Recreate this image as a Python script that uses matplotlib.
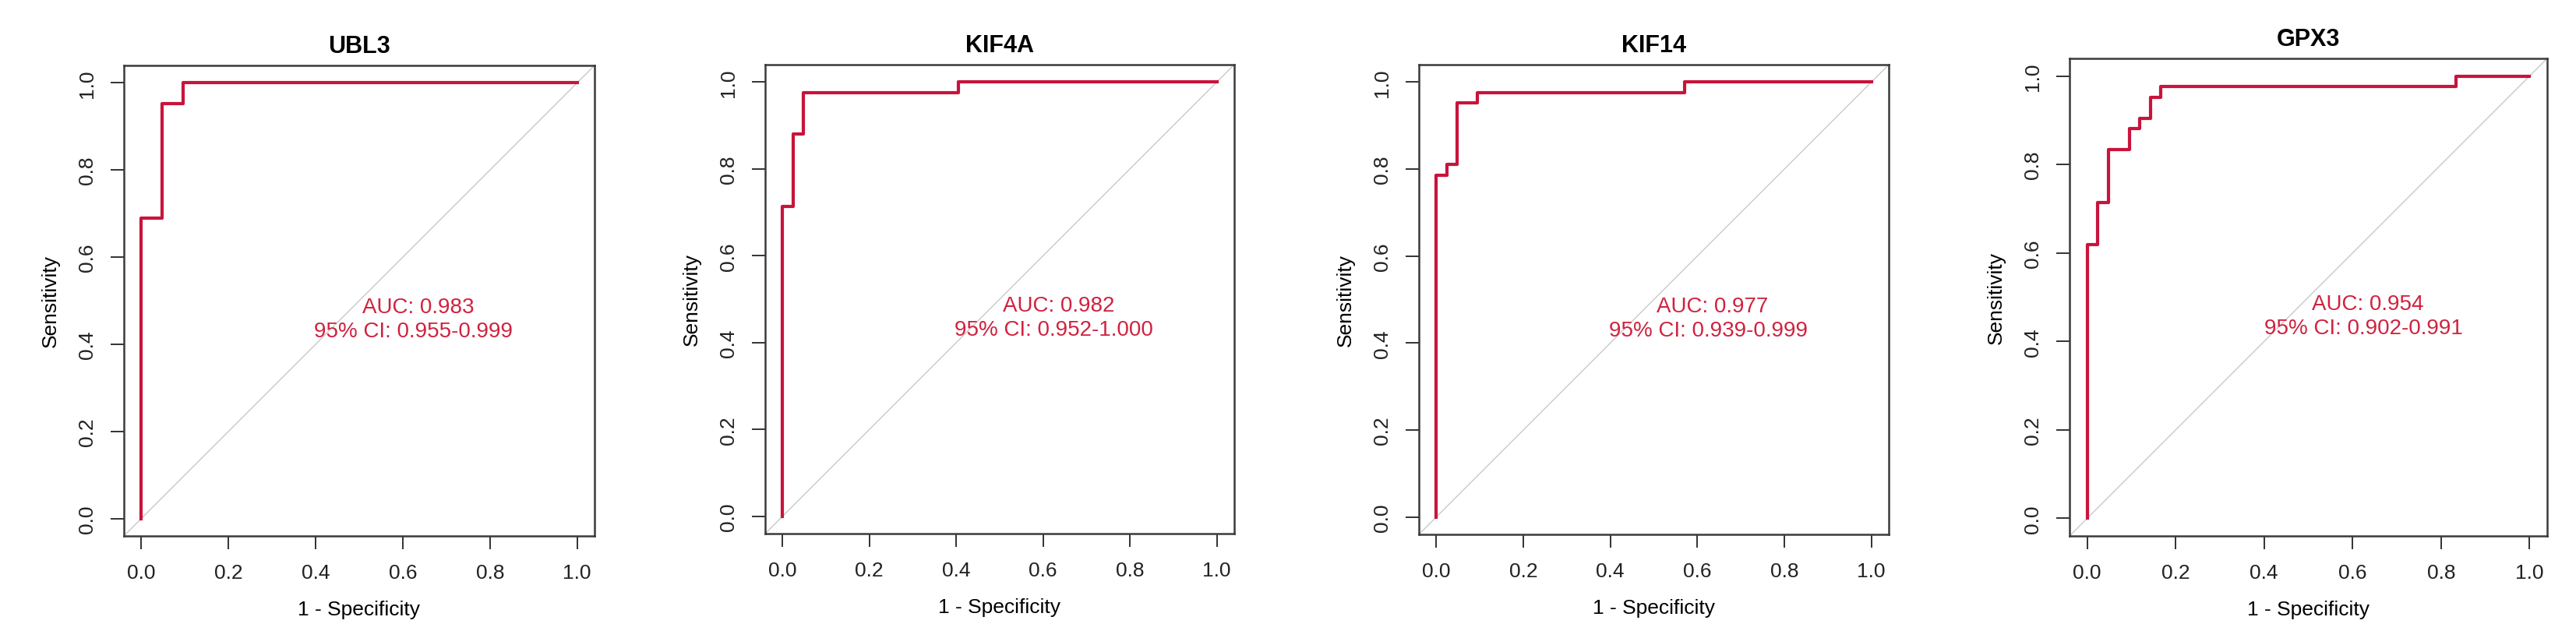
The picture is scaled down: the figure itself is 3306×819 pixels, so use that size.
import numpy as np
import matplotlib
matplotlib.use('Agg')
import matplotlib.pyplot as plt

plt.rcParams['font.family'] = ['Liberation Sans', 'DejaVu Sans']

# ROC-kurven (tocke ocitane sa slike)
genes = ['UBL3', 'KIF4A', 'KIF14', 'GPX3']

fpr_ubl3 = [0.0, 0.0, 0.048, 0.048, 0.095, 0.095, 1.0]
tpr_ubl3 = [0.0, 0.690, 0.690, 0.952, 0.952, 1.0, 1.0]

fpr_kif4a = [0.0, 0.0, 0.024, 0.024, 0.048, 0.048, 0.405, 0.405, 1.0]
tpr_kif4a = [0.0, 0.714, 0.714, 0.881, 0.881, 0.976, 0.976, 1.0, 1.0]

fpr_kif14 = [0.0, 0.0, 0.024, 0.024, 0.048, 0.048, 0.095, 0.095, 0.571, 0.571, 1.0]
tpr_kif14 = [0.0, 0.786, 0.786, 0.810, 0.810, 0.952, 0.952, 0.976, 0.976, 1.0, 1.0]

fpr_gpx3 = [0.0, 0.0, 0.024, 0.024, 0.048, 0.048, 0.095, 0.095, 0.119, 0.119,
            0.143, 0.143, 0.167, 0.167, 0.833, 0.833, 1.0]
tpr_gpx3 = [0.0, 0.619, 0.619, 0.714, 0.714, 0.833, 0.833, 0.881, 0.881, 0.905,
            0.905, 0.952, 0.952, 0.976, 0.976, 1.0, 1.0]

auc = [0.983, 0.982, 0.977, 0.954]
ci_lo = [0.955, 0.952, 0.939, 0.902]
ci_hi = [0.999, 1.000, 0.999, 0.991]

fprs = [fpr_ubl3, fpr_kif4a, fpr_kif14, fpr_gpx3]
tprs = [tpr_ubl3, tpr_kif4a, tpr_kif14, tpr_gpx3]

ticks = [0.0, 0.2, 0.4, 0.6, 0.8, 1.0]
tick_lab = ['0.0', '0.2', '0.4', '0.6', '0.8', '1.0']

# polozaji panela u pikselima: lijevo, gore, velicina
W, H = 3306, 820
boxes = [(159, 85, 604), (982, 84, 602), (1821, 84, 603), (2656, 76, 613)]

red = '#C8143C'
txt_red = '#D0223F'

fig = plt.figure(figsize=(W / 100, H / 100), dpi=100)

for i in range(4):
    l, t, s = boxes[i]
    ax = fig.add_axes([l / W, (H - t - s) / H, s / W, s / H])
    ax.plot([-0.04, 1.04], [-0.04, 1.04], color='#c8c8c8', lw=1.0, zorder=1)
    ax.plot(fprs[i], tprs[i], color=red, lw=3.0, zorder=3)
    ax.set_xlim(-0.04, 1.04)
    ax.set_ylim(-0.04, 1.04)
    ax.set_xticks(ticks)
    ax.set_xticklabels(tick_lab)
    ax.set_yticks(ticks)
    ax.set_yticklabels(tick_lab, rotation=90, va='center')
    ax.tick_params(length=12, width=1.3, labelsize=19, pad=13, colors='#222222')
    for sp in ax.spines.values():
        sp.set_linewidth(1.8)
        sp.set_color('#3a3a3a')
    ax.set_title(genes[i], fontsize=22, fontweight='bold', pad=12)
    ax.set_xlabel('1 - Specificity', fontsize=19, labelpad=17)
    ax.set_ylabel('Sensitivity', fontsize=19, labelpad=17)
    ax.text(0.635, 0.485, 'AUC: %.3f' % auc[i], color=txt_red, fontsize=20,
            ha='center', va='center')
    ax.text(0.625, 0.43, '95%% CI: %.3f-%.3f' % (ci_lo[i], ci_hi[i]),
            color=txt_red, fontsize=20, ha='center', va='center')

fig.savefig('out.png', dpi=100, facecolor='white')
